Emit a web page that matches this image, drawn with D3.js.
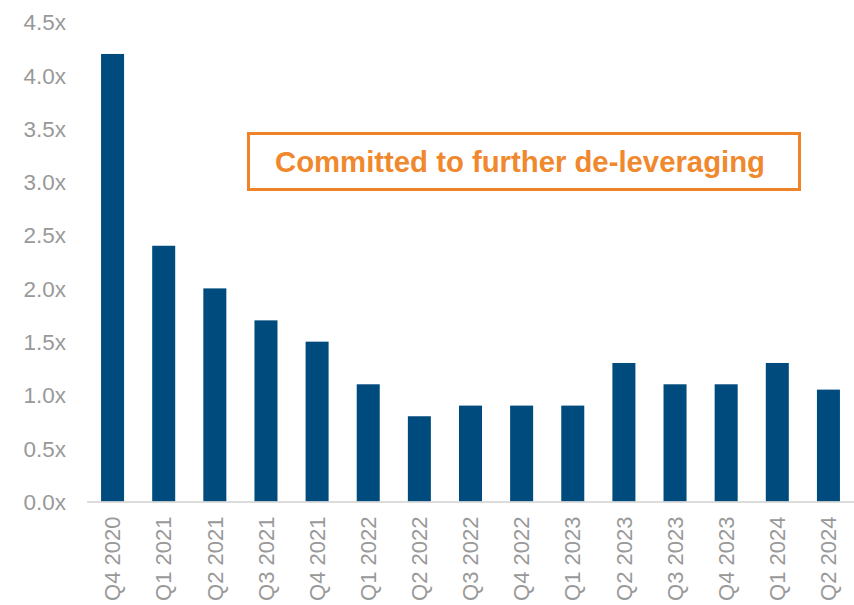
<!DOCTYPE html>
<html><head><meta charset="utf-8">
<script src="https://cdn.jsdelivr.net/npm/d3@7/dist/d3.min.js"></script>
<style>body{margin:0;background:#fff}svg{display:block}</style>
</head><body>
<script>
const categories = ["Q4 2020","Q1 2021","Q2 2021","Q3 2021","Q4 2021","Q1 2022","Q2 2022","Q3 2022","Q4 2022","Q1 2023","Q2 2023","Q3 2023","Q4 2023","Q1 2024","Q2 2024"];
const values = [4.2,2.4,2.0,1.7,1.5,1.1,0.8,0.9,0.9,0.9,1.3,1.1,1.1,1.3,1.05];
const yTicks = [0,0.5,1,1.5,2,2.5,3,3.5,4,4.5];
const annotation = "Committed to further de-leveraging";

const W=854,H=605;
const svg=d3.select("body").append("svg").attr("width",W).attr("height",H);
const x=d3.scaleBand().domain(categories).range([87,854]).paddingInner(0.55).paddingOuter(0.275);
const y=d3.scaleLinear().domain([0,4.5]).range([501.5,22]);
const font="Liberation Sans, Arial, sans-serif";

svg.selectAll("rect.bar").data(values).enter().append("rect")
  .attr("class","bar")
  .attr("x",(d,i)=>x(categories[i]))
  .attr("width",x.bandwidth())
  .attr("y",d=>y(d))
  .attr("height",d=>y(0)-y(d))
  .attr("fill","#004b7d");

svg.append("line").attr("x1",87).attr("x2",854).attr("y1",y(0)+0.5).attr("y2",y(0)+0.5)
  .attr("stroke","#d0d0d0").attr("stroke-width",1.5);

const yAxis=d3.axisLeft(y).tickValues(yTicks).tickFormat(d=>d.toFixed(1)+"x").tickSize(0).tickPadding(0);
const ya=svg.append("g").attr("transform","translate(66,0)").call(yAxis);
ya.select(".domain").remove();
ya.selectAll("text").attr("font-family",font).attr("font-size",22.5).attr("fill","#999999").attr("dy","0.35em");

const xAxis=d3.axisBottom(x).tickSize(0).tickPadding(0);
const xa=svg.append("g").attr("transform",`translate(0,${y(0)})`).call(xAxis);
xa.select(".domain").remove();
xa.selectAll("text").attr("font-family",font).attr("font-size",22).attr("fill","#999999")
  .attr("text-anchor","end").attr("transform","rotate(-90)").attr("x",-15).attr("y",0).attr("dy","0.35em");

svg.append("rect").attr("x",248.5).attr("y",133.5).attr("width",551).attr("height",56)
  .attr("fill","none").attr("stroke","#f0822a").attr("stroke-width",3);
svg.append("text").attr("x",520).attr("y",162).attr("dy","0.35em").attr("text-anchor","middle")
  .attr("font-family",font).attr("font-weight","bold").attr("font-size",29.3).attr("fill","#f0882e")
  .text(annotation);
</script>
</body></html>
